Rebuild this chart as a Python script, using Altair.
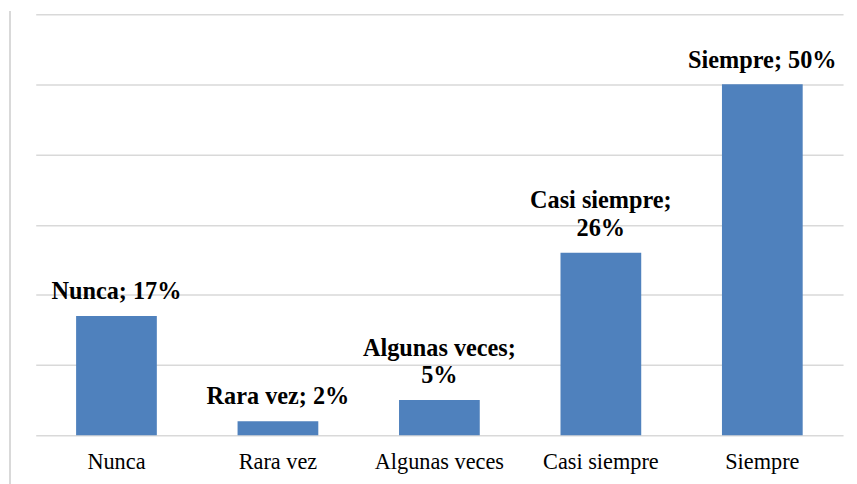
import altair as alt
import pandas as pd

categories = ["Nunca", "Rara vez", "Algunas veces", "Casi siempre", "Siempre"]
values = [17, 2, 5, 26, 50]
label_top = ["", "", "Algunas veces;", "Casi siempre;", ""]
label_bottom = ["Nunca; 17%", "Rara vez; 2%", "5%", "26%", "Siempre; 50%"]

df = pd.DataFrame({"cat": categories, "val": values, "l1": label_top, "l2": label_bottom})

x = alt.X("cat:N", sort=categories, title=None,
          scale=alt.Scale(paddingInner=0.5, paddingOuter=0.25),
          axis=alt.Axis(labelAngle=0, labelFont="Liberation Serif", labelFontSize=22.5,
                        labelColor="#000000", ticks=False, domain=False, labelPadding=16))
y = alt.Y("val:Q", title=None, scale=alt.Scale(domain=[0, 60], nice=False),
          axis=alt.Axis(values=[0, 10, 20, 30, 40, 50, 60], labels=False, ticks=False,
                        domain=False, gridColor="#d9d9d9", gridWidth=1.5))

bars = alt.Chart(df).mark_bar(color="#4f81bd").encode(x=x, y=y)

text_style = dict(font="Liberation Serif", fontSize=24.5, fontWeight="bold", color="#000000",
                  baseline="alphabetic")

text2 = alt.Chart(df).mark_text(dy=-17, **text_style).encode(
    x=alt.X("cat:N", sort=categories), y="val:Q", text="l2:N")
text1 = alt.Chart(df).mark_text(dy=-45, **text_style).encode(
    x=alt.X("cat:N", sort=categories), y="val:Q", text="l1:N")

frame = alt.Chart(df).mark_rule(color="#d9d9d9", strokeWidth=2, clip=False).encode(
    x=alt.value(-26), y=alt.value(-3), y2=alt.value(480)
)

chart = alt.layer(bars, text2, text1, frame).properties(
    width=815, height=425,
    autosize=alt.AutoSizeParams(type="none"),
    padding={"left": 28, "top": 4, "right": 6, "bottom": 47},
).configure_view(stroke=None)

chart.save("out.html", embed_options={"renderer": "svg", "actions": False})
